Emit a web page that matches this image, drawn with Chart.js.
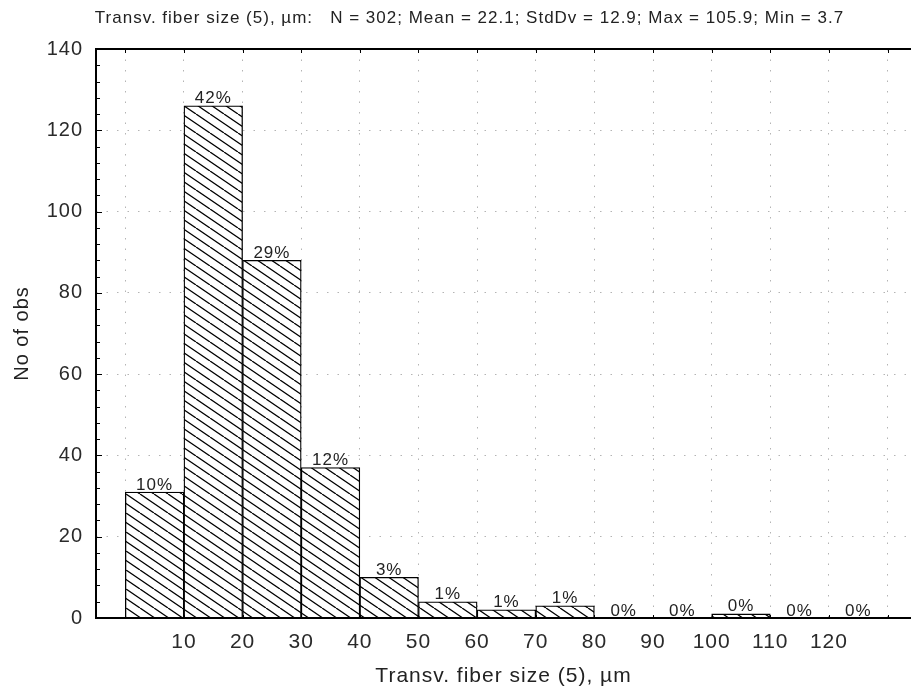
<!DOCTYPE html>
<html>
<head>
<meta charset="utf-8">
<title>Transv. fiber size (5)</title>
<script src="https://cdn.jsdelivr.net/npm/chart.js@4.4.0/dist/chart.umd.min.js"></script>
<style>
  html, body { margin: 0; padding: 0; background: #fff; overflow: hidden; }
  #wrap { width: 911px; height: 690px; position: relative; }
</style>
</head>
<body>
<div id="wrap"><canvas id="hist"></canvas></div>
<script>
// Histogram bins (lower edges, µm) and observation counts per bin
const binStarts = [0, 10, 20, 30, 40, 50, 60, 70, 80, 90, 100, 110, 120];
const binWidth = 10;
const counts = [31, 126, 88, 37, 10, 4, 2, 3, 0, 0, 1, 0, 0];

// Axis ticks
const xGridValues = [0, 10, 20, 30, 40, 50, 60, 70, 80, 90, 100, 110, 120, 130];
const xLabelValues = [10, 20, 30, 40, 50, 60, 70, 80, 90, 100, 110, 120];
const yTickValues = [0, 20, 40, 60, 80, 100, 120, 140];

const titleText = 'Transv. fiber size (5), µm:   N = 302; Mean = 22.1; StdDv = 12.9; Max = 105.9; Min = 3.7';
const xTitle = 'Transv. fiber size (5), µm';
const yTitle = 'No of obs';

const total = counts.reduce((a, b) => a + b, 0);
const points = binStarts.map((s, i) => ({ x: s + binWidth / 2, y: counts[i] }));

// Diagonal "\\\" hatch fill on white
function makeHatch() {
  const w = 28, h = 19;
  const c = document.createElement('canvas');
  c.width = w; c.height = h;
  const g = c.getContext('2d');
  g.fillStyle = '#fff';
  g.fillRect(0, 0, w, h);
  g.strokeStyle = '#000';
  g.lineWidth = 1.3;
  g.beginPath();
  for (let x0 = -42; x0 <= 28; x0 += 14) {
    g.moveTo(x0, 0);
    g.lineTo(x0 + w, h);
  }
  g.stroke();
  return g.createPattern(c, 'repeat');
}

// Frame, inward tick marks and percentage labels
const frameAndLabels = {
  id: 'frameAndLabels',
  beforeDraw(chart) {
    chart.ctx.letterSpacing = '1px';
  },
  afterDatasetsDraw(chart) {
    const ctx = chart.ctx;
    const xs = chart.scales.x, ys = chart.scales.y;
    const left = chart.chartArea.left, right = chart.chartArea.right;
    const top = chart.chartArea.top, bottom = chart.chartArea.bottom;
    ctx.save();
    ctx.strokeStyle = '#000';
    ctx.lineWidth = 1;
    ctx.beginPath();
    // left axis ticks every 4, longer at labelled values
    for (let v = 0; v <= 140; v += 4) {
      const y = Math.round(ys.getPixelForValue(v)) + 0.5;
      const len = v % 20 === 0 ? 6 : 4;
      ctx.moveTo(left, y); ctx.lineTo(left + len, y);
    }
    // top and bottom ticks every 10
    xGridValues.forEach(v => {
      const x = Math.round(xs.getPixelForValue(v)) + 0.5;
      ctx.moveTo(x, top); ctx.lineTo(x, top + 4);
      ctx.moveTo(x, bottom); ctx.lineTo(x, bottom - 3);
    });
    ctx.stroke();
    // frame
    ctx.lineWidth = 2;
    ctx.beginPath();
    ctx.moveTo(right + 2, top); ctx.lineTo(left, top); ctx.lineTo(left, bottom); ctx.lineTo(right + 2, bottom);
    ctx.stroke();

    // percent labels above bars
    const meta = chart.getDatasetMeta(0);
    ctx.font = '17px "Liberation Sans", Arial, sans-serif';
    ctx.letterSpacing = '1px';
    ctx.fillStyle = '#222';
    ctx.textAlign = 'center';
    ctx.textBaseline = 'alphabetic';
    meta.data.forEach((bar, i) => {
      const pct = Math.round(counts[i] / total * 100) + '%';
      ctx.fillText(pct, bar.x, bar.y - 2.5);
    });
    ctx.restore();
  }
};

const ctx = document.getElementById('hist').getContext('2d');
new Chart(ctx, {
  type: 'bar',
  data: {
    datasets: [{
      data: points,
      backgroundColor: makeHatch(),
      borderColor: '#000',
      borderWidth: 1.3,
      borderSkipped: 'start',
      barPercentage: 1,
      categoryPercentage: 1
    }]
  },
  options: {
    responsive: true,
    maintainAspectRatio: false,
    animation: false,
    layout: { padding: { left: 28, right: 0, top: 0, bottom: 0 } },
    plugins: {
      legend: { display: false },
      tooltip: { enabled: false },
      title: {
        display: true,
        text: titleText,
        color: '#222',
        font: { family: '"Liberation Sans", Arial, sans-serif', size: 17, weight: 'normal', lineHeight: 1.2 },
        padding: { top: 8, bottom: 20.6 }
      }
    },
    scales: {
      x: {
        type: 'linear',
        offset: false,
        min: -5,
        max: 134,
        afterBuildTicks: s => { s.ticks = xGridValues.map(v => ({ value: v })); },
        afterFit: s => { s.height = 72; s.paddingLeft = 0; s.paddingRight = 0; },
        grid: { offset: false, color: '#b4b4b4', lineWidth: 1, drawTicks: false },
        border: { display: false, dash: [1.5, 9] },
        ticks: {
          autoSkip: false,
          maxRotation: 0,
          padding: 12,
          color: '#2a2a2a',
          font: { family: '"Liberation Sans", Arial, sans-serif', size: 21 },
          callback: v => xLabelValues.includes(v) ? String(v) : ''
        },
        title: {
          display: true,
          text: xTitle,
          color: '#222',
          font: { family: '"Liberation Sans", Arial, sans-serif', size: 21, lineHeight: 1.2 },
          padding: { top: 1, bottom: 1 }
        }
      },
      y: {
        min: 0,
        max: 140,
        afterBuildTicks: s => { s.ticks = yTickValues.map(v => ({ value: v })); },
        afterFit: s => { s.width = 68; s.paddingTop = 0; s.paddingBottom = 0; },
        grid: { color: '#b4b4b4', lineWidth: 1, drawTicks: false },
        border: { display: false, dash: [1.5, 9] },
        ticks: {
          padding: 13,
          color: '#2a2a2a',
          font: { family: '"Liberation Sans", Arial, sans-serif', size: 20 }
        },
        title: {
          display: true,
          text: yTitle,
          color: '#222',
          font: { family: '"Liberation Sans", Arial, sans-serif', size: 20, lineHeight: 1.2 },
          padding: { top: -18, bottom: 0 }
        }
      }
    }
  },
  plugins: [frameAndLabels]
});
</script>
</body>
</html>
